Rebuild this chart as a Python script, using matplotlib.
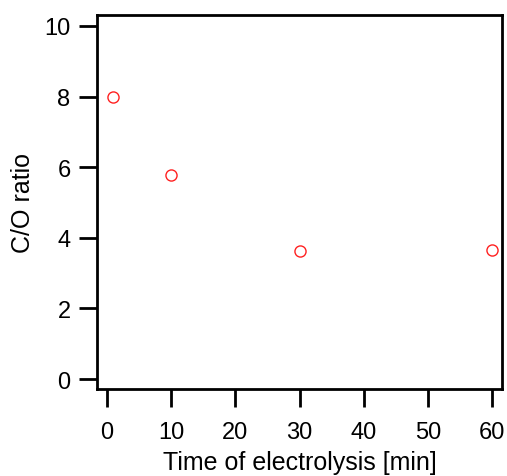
import matplotlib
matplotlib.use("Agg")
import matplotlib.pyplot as plt

# C/O ratio vs electrolysis time
time_min = [1, 10, 30, 60]
co_ratio = [8.0, 5.78, 3.62, 3.65]

x_ticks = [0, 10, 20, 30, 40, 50, 60]
y_ticks = [0, 2, 4, 6, 8, 10]

plt.rcParams["font.family"] = ["Liberation Sans", "DejaVu Sans"]

fig = plt.figure(figsize=(5.07, 4.77), dpi=100)
ax = fig.add_axes([97 / 507, 1 - 390 / 477, (502 - 97) / 507, (390 - 16) / 477])

ax.plot(time_min, co_ratio, linestyle="none", marker="o", markersize=8,
        markerfacecolor="none", markeredgecolor="#ff2020", markeredgewidth=1.0)

ax.set_xlim(-1.5, 61.5)
ax.set_ylim(-0.28, 10.31)
ax.set_xticks(x_ticks)
ax.set_yticks(y_ticks)

for s in ax.spines.values():
    s.set_linewidth(2.0)
ax.tick_params(direction="out", length=13, width=2.0, labelsize=17)
ax.tick_params(axis="x", pad=10)
ax.tick_params(axis="y", pad=6)

ax.set_xlabel("Time of electrolysis [min]", fontsize=18, labelpad=5)
ax.set_ylabel("C/O ratio", fontsize=18, labelpad=7)

fig.savefig("out.png", dpi=100)
